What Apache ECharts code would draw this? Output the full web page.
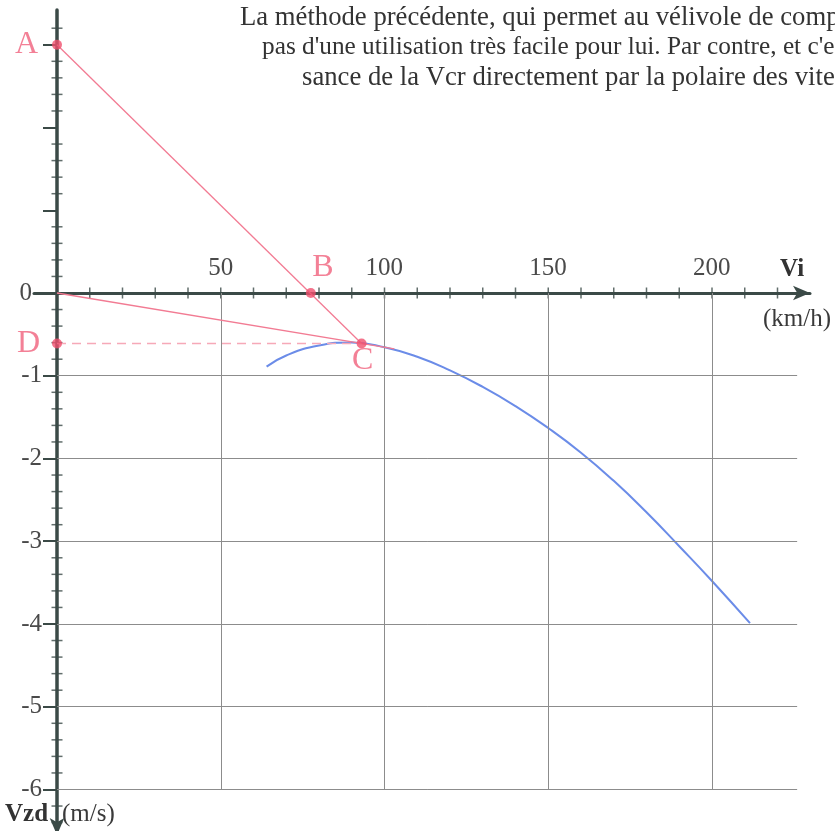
<!DOCTYPE html>
<html><head><meta charset="utf-8">
<script src="https://cdn.jsdelivr.net/npm/echarts@6/dist/echarts.min.js"></script>
<style>html,body{margin:0;padding:0;background:#fff}#c{width:835px;height:831px}</style>
</head><body><div id="c"></div>
<script>
// Polar curve (Vi km/h, Vz m/s)
const polarVi = [64, 70, 80, 90, 100, 110, 120, 130, 140, 150, 160, 170, 180, 190, 200, 211.6];
const polarVz = [-0.89, -0.755, -0.635, -0.598, -0.655, -0.77, -0.935, -1.135, -1.367, -1.632, -1.93, -2.27, -2.65, -3.06, -3.48, -3.99];
// Construction points
const pointNames = ['A', 'B', 'C', 'D'];
const pointVi = [0, 77.5, 93, 0];
const pointVz = [3, 0, -0.61, -0.61];
const tangentEnd = [103, -0.676];
// Tick labels / ticks
const xLabelValues = [50, 100, 150, 200];
const yLabelValues = [0, -1, -2, -3, -4, -5, -6];
const yMajorTicks = [3, 2, 1, 0, -1, -2, -3, -4, -5, -6];
const xMinorTicks = [10, 20, 30, 40, 50, 60, 70, 80, 90, 100, 110, 120, 130, 140, 150, 160, 170, 180, 190, 200, 210, 220];
const yMinorTicks = [3.2, 2.8, 2.6, 2.4, 2.2, 1.8, 1.6, 1.4, 1.2, 0.8, 0.6, 0.4, 0.2, -0.2, -0.4, -0.6, -0.8, -1.2, -1.4, -1.6, -1.8, -2.2, -2.4, -2.6, -2.8, -3.2, -3.4, -3.6, -3.8, -4.2, -4.4, -4.6, -4.8, -5.2, -5.4, -5.6, -5.8, -6.2, -6.4];
const gridXValues = [50, 100, 150, 200];
const gridYValues = [-1, -2, -3, -4, -5, -6];
const gridXEnd = 226;
const gridYEnd = -6;
const textLines = [
  'La méthode précédente, qui permet au vélivole de comprendre',
  "pas d'une utilisation très facile pour lui. Par contre, et c'est",
  'sance de la Vcr directement par la polaire des vitesses'
];

const AXIS = '#3b4a47';
const PINK = '#f0607c';
const SERIF = '"Liberation Serif", "DejaVu Serif", serif';

const chart = echarts.init(document.getElementById('c'), null, {renderer: 'canvas'});

const pt = i => [pointVi[i], pointVz[i]];

const gridMarks = [];
gridXValues.forEach(v => gridMarks.push([{coord: [v, 0]}, {coord: [v, gridYEnd]}]));
gridYValues.forEach(v => gridMarks.push([{coord: [0, v]}, {coord: [gridXEnd, v]}]));

const labelPos = {
  A: {position: 'left', distance: 14},
  B: {position: 'top', distance: 4, offset: [12, 0]},
  C: {position: 'bottom', distance: 0, offset: [1, -4]},
  D: {position: 'left', distance: 12}
};

const option = {
  animation: false,
  backgroundColor: '#ffffff',
  grid: [
    {left: 57, top: 10, width: 753.25, height: 825, containLabel: false, outerBoundsMode: 'none'},
    {left: 34, top: 293, width: 776, height: 1, containLabel: false, outerBoundsMode: 'none'}
  ],
  xAxis: [
    {gridIndex: 0, type: 'value', min: 0, max: 230, show: false},
    {
      gridIndex: 1, type: 'value', min: -7, max: 230, position: 'top',
      axisLine: {onZero: false, symbol: ['none', 'arrow'], symbolSize: [11, 17], lineStyle: {color: AXIS, width: 3}},
      axisTick: {show: false},
      axisLabel: {customValues: xLabelValues, margin: 12, color: '#4a4a4a', fontSize: 25, fontFamily: SERIF},
      splitLine: {show: false}
    }
  ],
  yAxis: [
    {
      gridIndex: 0, type: 'value', min: -6.55, max: 3.42, position: 'left',
      axisLine: {onZero: false, symbol: ['arrow', 'none'], symbolSize: [11, 17], lineStyle: {color: AXIS, width: 3.5}},
      axisTick: {show: true, customValues: yMajorTicks, length: 14, lineStyle: {color: AXIS, width: 2}},
      axisLabel: {
        customValues: yLabelValues, margin: 15, color: '#4a4a4a', fontSize: 25, fontFamily: SERIF,
        formatter: v => (v === 0 ? '{z|0}' : String(v)),
        rich: {z: {fontSize: 25, fontFamily: SERIF, color: '#4a4a4a', padding: [0, 10, 0, 0]}}
      },
      splitLine: {show: false}
    },
    {gridIndex: 1, type: 'value', min: 0, max: 1, show: false}
  ],
  series: [
    {
      type: 'scatter', data: [], silent: true, z: 1,
      markLine: {silent: true, symbol: ['none', 'none'], label: {show: false},
        lineStyle: {color: '#8c8c8c', width: 1, type: 'solid'}, data: gridMarks}
    },
    {
      type: 'scatter', silent: true, z: 3, symbol: 'rect', symbolSize: [1.5, 11],
      itemStyle: {color: AXIS}, data: xMinorTicks.map(v => [v, 0])
    },
    {
      type: 'scatter', silent: true, z: 3, symbol: 'rect', symbolSize: [11, 1.5],
      itemStyle: {color: AXIS}, data: yMinorTicks.map(v => [0, v])
    },
    {
      type: 'line', smooth: 0.5, showSymbol: false, z: 4,
      lineStyle: {color: '#6b8ce8', width: 2},
      data: polarVi.map((v, i) => [v, polarVz[i]])
    },
    {
      type: 'line', showSymbol: false, z: 5,
      lineStyle: {color: '#f27b93', width: 1.3},
      data: [pt(0), pt(2)]
    },
    {
      type: 'line', showSymbol: false, z: 5,
      lineStyle: {color: '#f27b93', width: 1.3},
      data: [[0, 0], tangentEnd]
    },
    {
      type: 'line', showSymbol: false, z: 5,
      lineStyle: {color: '#f6a9b8', width: 1.3, type: [9, 6]},
      data: [pt(3), pt(2)]
    },
    {
      type: 'scatter', z: 6, symbolSize: 10, itemStyle: {color: '#f0506e'}, clip: false,
      data: pointNames.map((n, i) => ({
        value: pt(i), name: n,
        label: Object.assign({show: true, formatter: n, color: PINK, fontSize: 32, fontFamily: SERIF}, labelPos[n])
      }))
    }
  ],
  graphic: [
    ...textLines.map((t, i) => ({
      type: 'text', left: [240, 262, 302][i], top: [4, 35, 64][i], silent: true,
      style: {text: t, font: [26.7, 25.3, 26.7][i] + 'px ' + SERIF, fill: '#333333'}
    })),
    {type: 'text', left: 780, top: 257, style: {text: 'Vi', font: 'bold 25px ' + SERIF, fill: '#333333'}},
    {type: 'text', left: 763, top: 307, style: {text: '(km/h)', font: '25px ' + SERIF, fill: '#3a3a3a'}},
    {type: 'text', left: 5, top: 802, style: {text: 'Vzd', font: 'bold 25px ' + SERIF, fill: '#333333'}},
    {type: 'text', left: 62, top: 802, style: {text: '(m/s)', font: '25px ' + SERIF, fill: '#3a3a3a'}}
  ]
};
chart.setOption(option);
</script>
</body></html>
